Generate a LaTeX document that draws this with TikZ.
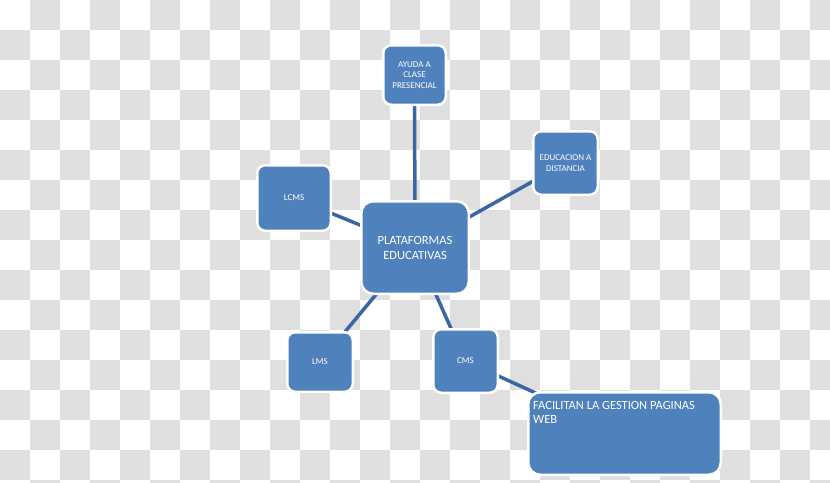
\documentclass[tikz,border=0pt]{standalone}
\usepackage{fontspec}
\setmainfont{Carlito}
\pgfdeclarelayer{checker}
\pgfdeclarelayer{edges}
\pgfsetlayers{checker,edges,main}
\definecolor{boxblue}{RGB}{79,129,189}
\definecolor{edgeblue}{RGB}{58,102,163}
\definecolor{checkgray}{RGB}{223,223,223}
\begin{document}
\begin{tikzpicture}[x=1pt,y=-1pt,
  box/.style={draw=white, line width=2.5pt, fill=boxblue, rounded corners=8pt,
    text=white, align=center, inner sep=0pt, font=\fontsize{9}{10.3}\selectfont},
  bigbox/.style={box, rounded corners=12pt, font=\fontsize{12.5}{15}\selectfont},
  link/.style={draw=edgeblue, line width=3.5pt}]
\useasboundingbox (0,0) rectangle (830,482);
\begin{pgfonlayer}{checker}
\begin{scope}
\clip (0,0) rectangle (830,482);
\fill[white] (0,0) rectangle (830,482);
\foreach \i in {0,...,27}{
  \pgfmathtruncatemacro\s{mod(\i+1,2)}
  \foreach \k in {0,...,8}{
    \pgfmathtruncatemacro\j{\s+2*\k}
    \fill[checkgray] ({30*\i},{30*\j}) rectangle ++(30,30);
  }
}
\end{scope}
\end{pgfonlayer}

\node[box, minimum width=62.5pt, minimum height=59.5pt] (ayuda) at (414.5,75) {AYUDA A\\CLASE\\PRESENCIAL};
\node[box, minimum width=64.5pt, minimum height=63.5pt] (educ) at (565.5,163) {EDUCACION A\\DISTANCIA};
\node[box, minimum width=73.5pt, minimum height=65.5pt] (lcms) at (294,198) {LCMS};
\node[bigbox, minimum width=107.5pt, minimum height=92.5pt] (plat) at (415,247.5) {PLATAFORMAS\\EDUCATIVAS};
\node[box, minimum width=65.5pt, minimum height=59.5pt] (lms) at (320,362) {LMS};
\node[box, minimum width=64.5pt, minimum height=63.5pt] (cms) at (465.5,361) {CMS};
\node[bigbox, minimum width=192.5pt, minimum height=82.5pt] (fac) at (624.5,433.5) {};
\node[anchor=north west, inner sep=0pt, align=left, text=white,
  font=\fontsize{12.5}{13.3}\selectfont] (factext) at (533,401.5) {FACILITAN LA GESTION PAGINAS\\WEB};

\begin{pgfonlayer}{edges}
\draw[link] (plat.center) -- (ayuda.center);
\draw[link] (plat.center) -- (educ.center);
\draw[link] (plat.center) -- (lcms.center);
\draw[link] (plat.center) -- (lms.center);
\draw[link] (plat.center) -- (cms.center);
\draw[link] (cms.center) -- (fac.center);
\end{pgfonlayer}
\end{tikzpicture}
\end{document}
